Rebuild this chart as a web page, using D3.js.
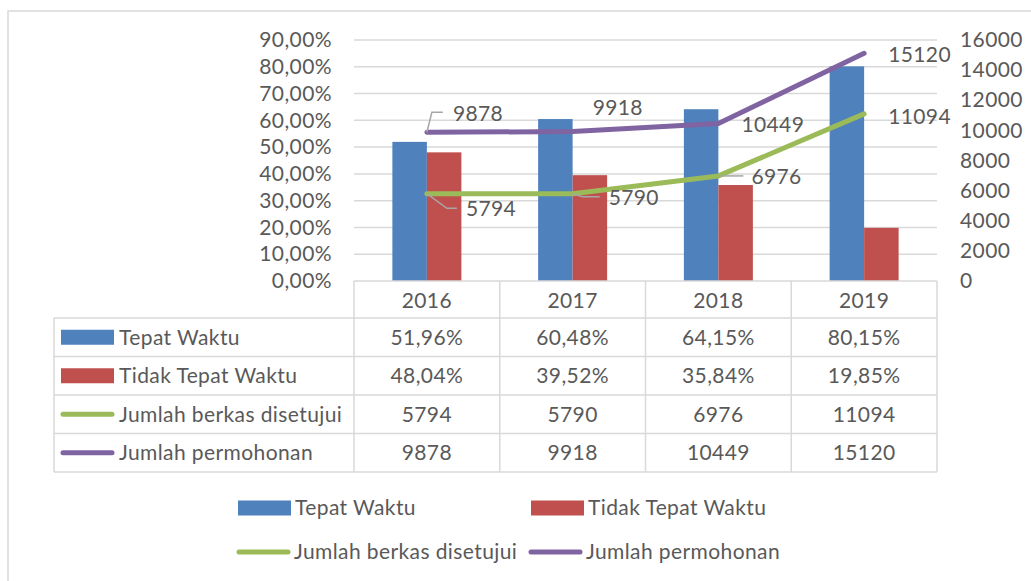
<!DOCTYPE html>
<html>
<head>
<meta charset="utf-8">
<script src="https://cdn.jsdelivr.net/npm/d3@7"></script>
<style>
  body { margin: 0; background: #fff; }
  text { font-family: Lato, "Open Sans", sans-serif; fill: #595959; letter-spacing: 0.4px; }
</style>
</head>
<body>
<div id="chart"></div>
<script>
// data
const years = ["2016", "2017", "2018", "2019"];
const tepatWaktu = [0.5196, 0.6048, 0.6415, 0.8015];
const tidakTepatWaktu = [0.4804, 0.3952, 0.3584, 0.1985];
const berkasDisetujui = [5794, 5790, 6976, 11094];
const permohonan = [9878, 9918, 10449, 15120];
const leftTicks = [0, 0.1, 0.2, 0.3, 0.4, 0.5, 0.6, 0.7, 0.8, 0.9];
const rightTicks = [0, 2000, 4000, 6000, 8000, 10000, 12000, 14000, 16000];

const W = 1031, H = 581;
const fontSize = 21;
const grid = "#d9d9d9";
const colors = {blue: "#4f81bd", red: "#c0504d", green: "#9bbb59", purple: "#8064a2"};

const locale = d3.formatLocale({decimal: ",", thousands: ".", grouping: [3], currency: ["", ""]});
const pct = locale.format(".2%");

const svg = d3.select("#chart").append("svg")
  .attr("width", W)
  .attr("height", H);

// chart frame
svg.append("rect")
  .attr("x", 8).attr("y", 11)
  .attr("width", 1100).attr("height", 700)
  .attr("fill", "none")
  .attr("stroke", grid)
  .attr("stroke-width", 1.5);

let x = d3.scaleBand().domain(years).range([354, 937]);
let xSub = d3.scaleBand().domain(["tepat", "tidak"]).range([-34.5, 34.5]);
let yLeft = d3.scaleLinear().domain([0, 0.9]).range([281, 40]);
let yRight = d3.scaleLinear().domain([0, 16000]).range([281, 40]);
const cx = d => x(d) + x.bandwidth() / 2;

// gridlines
svg.append("g").selectAll("line")
  .data(leftTicks.slice(1))
  .enter().append("line")
  .attr("x1", 354).attr("x2", 937)
  .attr("y1", d => yLeft(d)).attr("y2", d => yLeft(d))
  .attr("stroke", grid).attr("stroke-width", 1.5);

// axes
const axL = svg.append("g")
  .attr("transform", "translate(332,0)")
  .call(d3.axisLeft(yLeft).tickValues(leftTicks).tickFormat(pct).tickSize(0).tickPadding(0));
const axR = svg.append("g")
  .attr("transform", "translate(960,0)")
  .call(d3.axisRight(yRight).tickValues(rightTicks).tickFormat(d3.format("d")).tickSize(0).tickPadding(0));
[axL, axR].forEach(ax => {
  ax.select(".domain").remove();
  ax.selectAll("text")
    .attr("font-family", "Lato, 'Open Sans', sans-serif")
    .attr("font-size", fontSize)
    .attr("fill", "#595959");
});

// bars
const barSeries = [
  {key: "tepat", values: tepatWaktu, color: colors.blue},
  {key: "tidak", values: tidakTepatWaktu, color: colors.red}
];
barSeries.forEach(s => {
  svg.append("g").selectAll("rect")
    .data(years)
    .enter().append("rect")
    .attr("x", (d) => cx(d) + xSub(s.key))
    .attr("width", xSub.bandwidth())
    .attr("y", (d, i) => yLeft(s.values[i]))
    .attr("height", (d, i) => 281 - yLeft(s.values[i]))
    .attr("fill", s.color);
});

// lines
const lineSeries = [
  {values: berkasDisetujui, color: colors.green},
  {values: permohonan, color: colors.purple}
];
const lineGen = d3.line().x(d => cx(d[0])).y(d => yRight(d[1]));
lineSeries.forEach(s => {
  svg.append("path")
    .attr("d", lineGen(years.map((y, i) => [y, s.values[i]])))
    .attr("fill", "none")
    .attr("stroke", s.color)
    .attr("stroke-width", 5)
    .attr("stroke-linejoin", "round")
    .attr("stroke-linecap", "round");
});

// data labels, offsets relative to each point
const greenLabelOff = [[39, 15], [36, 4], [33, 1], [24, 3]];
const purpleLabelOff = [[26, -19], [20, -24], [23, 1], [24, 1]];
const greenLeaders = [[[0, 0], [20, 14.6], [30, 14.6]], [[0, 0], [10, 3], [27, 3]], [[2, 0], [25, 0]], null];
const purpleLeaders = [[[0, 0], [5, -20], [16, -20]], null, null, null];

function drawLabels(values, offs, leaders) {
  values.forEach((v, i) => {
    const px = cx(years[i]), py = yRight(v);
    if (leaders[i]) {
      svg.append("path")
        .attr("d", d3.line()(leaders[i].map(p => [px + p[0], py + p[1]])))
        .attr("fill", "none")
        .attr("stroke", "#a6a6a6")
        .attr("stroke-width", 1.5);
    }
    svg.append("text")
      .attr("x", px + offs[i][0])
      .attr("y", py + offs[i][1])
      .attr("dy", "0.35em")
      .attr("font-size", fontSize)
      .text(v);
  });
}
drawLabels(berkasDisetujui, greenLabelOff, greenLeaders);
drawLabels(permohonan, purpleLabelOff, purpleLeaders);

// data table
const tableTop = 281, headerBottom = 318, rowH = 38.5;
const colEdges = [354].concat(years.map(d => x(d) + x.bandwidth()));
const rows = [
  {name: "Tepat Waktu", type: "rect", color: colors.blue, cells: tepatWaktu.map(pct)},
  {name: "Tidak Tepat Waktu", type: "rect", color: colors.red, cells: tidakTepatWaktu.map(pct)},
  {name: "Jumlah berkas disetujui", type: "line", color: colors.green, cells: berkasDisetujui.map(String)},
  {name: "Jumlah permohonan", type: "line", color: colors.purple, cells: permohonan.map(String)}
];
const tableBottom = headerBottom + rows.length * rowH;
const tbl = svg.append("g");

// horizontal borders
tbl.append("line").attr("x1", 354).attr("x2", 937).attr("y1", tableTop).attr("y2", tableTop)
  .attr("stroke", grid).attr("stroke-width", 1.5);
d3.range(rows.length + 1).forEach(i => {
  const yy = headerBottom + i * rowH;
  tbl.append("line").attr("x1", 54).attr("x2", 937).attr("y1", yy).attr("y2", yy)
    .attr("stroke", grid).attr("stroke-width", 1.5);
});
// vertical borders
tbl.append("line").attr("x1", 54).attr("x2", 54).attr("y1", headerBottom).attr("y2", tableBottom)
  .attr("stroke", grid).attr("stroke-width", 1.5);
colEdges.forEach(xx => {
  tbl.append("line").attr("x1", xx).attr("x2", xx).attr("y1", tableTop).attr("y2", tableBottom)
    .attr("stroke", grid).attr("stroke-width", 1.5);
});

// header years
tbl.selectAll("text.year")
  .data(years)
  .enter().append("text")
  .attr("class", "year")
  .attr("x", d => cx(d))
  .attr("y", (tableTop + headerBottom) / 2 + 1)
  .attr("dy", "0.35em")
  .attr("text-anchor", "middle")
  .attr("font-size", fontSize)
  .text(d => d);

function legendKey(g, type, color, x0, x1, yc) {
  if (type === "rect") {
    g.append("rect").attr("x", x0).attr("y", yc - 7.5)
      .attr("width", x1 - x0).attr("height", 15).attr("fill", color);
  } else {
    g.append("line").attr("x1", x0 + 2).attr("x2", x1 - 2).attr("y1", yc).attr("y2", yc)
      .attr("stroke", color).attr("stroke-width", 5).attr("stroke-linecap", "round");
  }
}

rows.forEach((r, i) => {
  const yc = headerBottom + i * rowH + rowH / 2;
  legendKey(tbl, r.type, r.color, 61, 114, yc);
  tbl.append("text")
    .attr("x", 119).attr("y", yc).attr("dy", "0.35em")
    .attr("font-size", fontSize)
    .text(r.name);
  r.cells.forEach((c, j) => {
    tbl.append("text")
      .attr("x", cx(years[j])).attr("y", yc).attr("dy", "0.35em")
      .attr("text-anchor", "middle")
      .attr("font-size", fontSize)
      .text(c);
  });
});

// bottom legend
const legendItems = [
  {name: "Tepat Waktu", type: "rect", color: colors.blue, x: 238, y: 508},
  {name: "Tidak Tepat Waktu", type: "rect", color: colors.red, x: 531, y: 508},
  {name: "Jumlah berkas disetujui", type: "line", color: colors.green, x: 237, y: 552},
  {name: "Jumlah permohonan", type: "line", color: colors.purple, x: 529, y: 552}
];
const leg = svg.append("g");
legendItems.forEach(it => {
  legendKey(leg, it.type, it.color, it.x, it.x + 53, it.y);
  leg.append("text")
    .attr("x", it.x + 57).attr("y", it.y).attr("dy", "0.35em")
    .attr("font-size", fontSize)
    .text(it.name);
});
</script>
</body>
</html>
